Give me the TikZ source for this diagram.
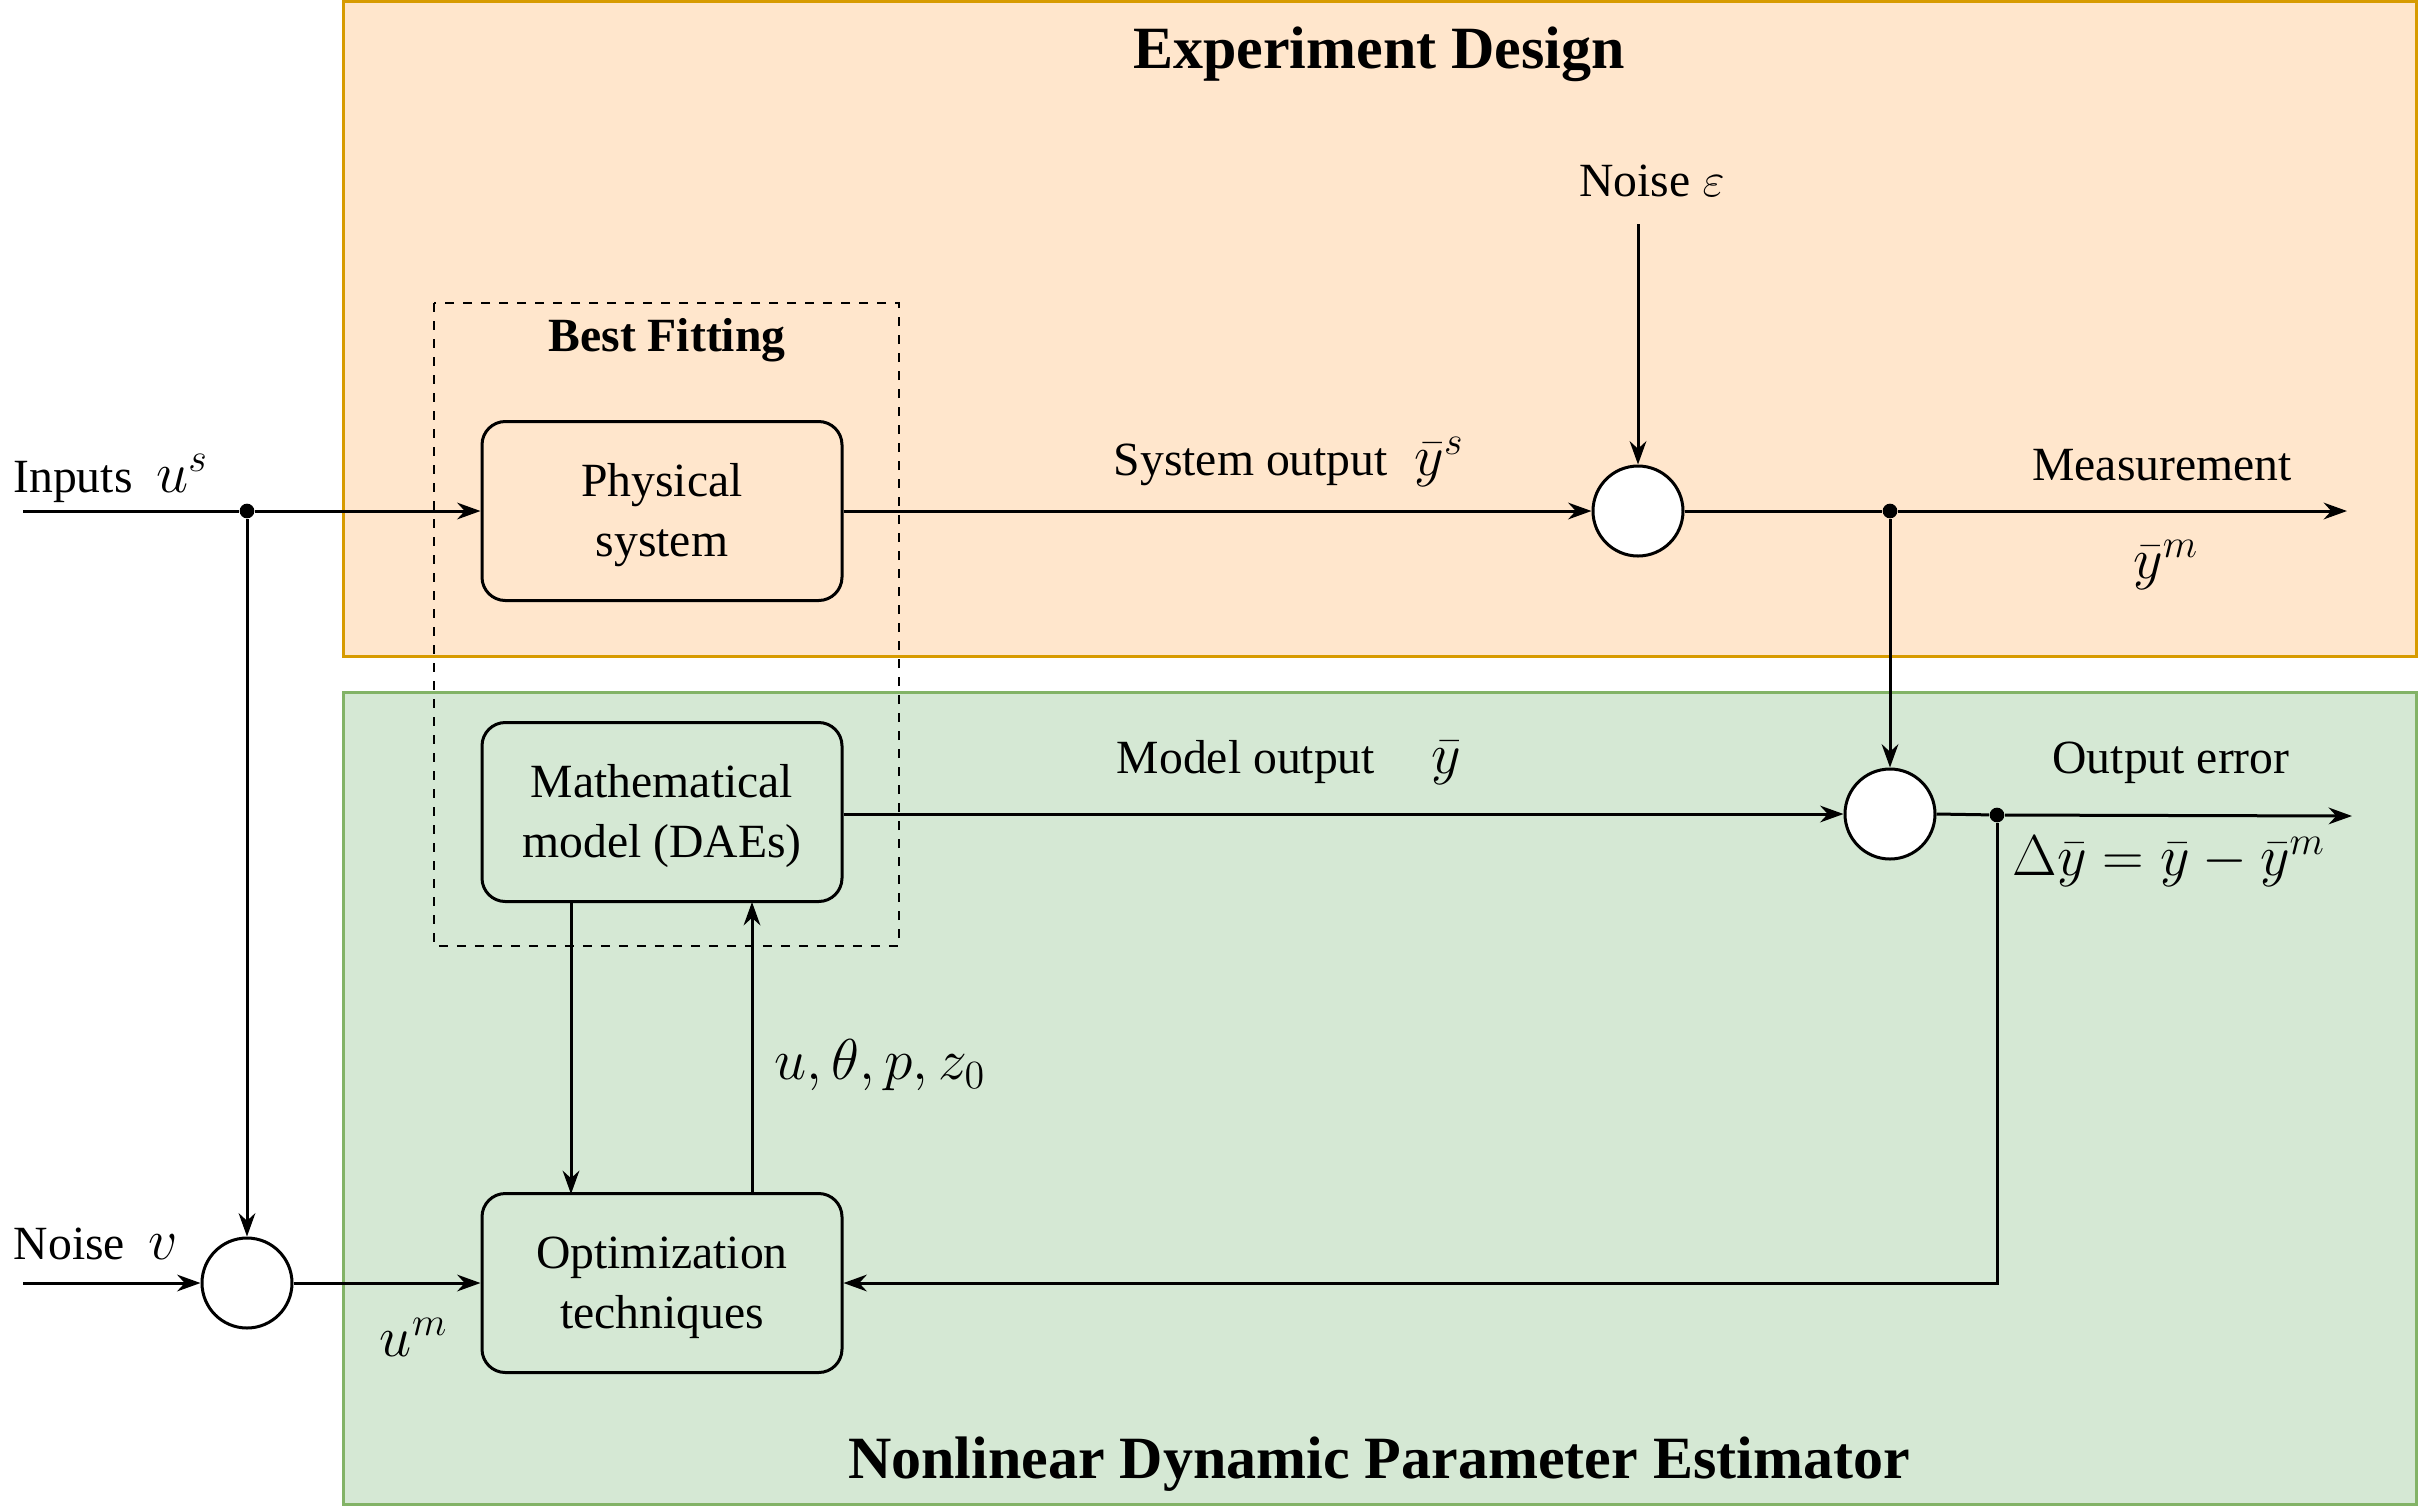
\documentclass[tikz,border=0pt]{standalone}
\usepackage{fontspec}
\setmainfont{Liberation Serif}
\usetikzlibrary{arrows.meta,shapes.geometric}
\definecolor{orfill}{HTML}{FFE6CC}
\definecolor{ordraw}{HTML}{D79B00}
\definecolor{grfill}{HTML}{D5E8D4}
\definecolor{grdraw}{HTML}{82B366}
\newcommand{\mth}[1]{{\fontsize{18}{20}\selectfont$#1$}}
\begin{document}
\begin{tikzpicture}[x=0.3pt,y=-0.3pt,
  every node/.style={font=\fontsize{14.3}{18}\selectfont},
  blk/.style={draw,line width=0.9pt,rounded corners=7pt,minimum width=108pt,minimum height=53.7pt,inner sep=0pt},
  blktxt/.style={align=center,inner sep=0pt,yshift=-1.3pt},
  sumc/.style={draw,circle,fill=white,line width=0.9pt,minimum size=27pt,inner sep=0pt},
  dotc/.style={circle,fill=black,inner sep=0pt,minimum size=4.4pt},
  conn/.style={line width=0.9pt},
  arr/.style={conn,-{Stealth[length=7pt,width=5pt]}},
  lbl/.style={inner sep=0pt,align=center},
  mlbl/.style={inner sep=0pt,font=\fontsize{18}{20}\selectfont},
  title/.style={inner sep=0pt,font=\fontsize{18}{21}\selectfont\bfseries}]
\useasboundingbox (0,0) rectangle (2418,1506);
% regions
\draw[fill=orfill,draw=ordraw,line width=0.9pt] (343,1) rectangle (2416,656);
\draw[fill=grfill,draw=grdraw,line width=0.9pt] (343,692) rectangle (2416,1504);
\node[title] (t1) at (1379,54) {Experiment Design};
\node[title] (t2) at (1379,1464) {Nonlinear Dynamic Parameter Estimator};
% dashed best fitting box
\draw[dashed,dash pattern=on 2.7pt off 2.7pt,line width=0.7pt] (434,303) rectangle (899,946);
\node[lbl,font=\fontsize{14.3}{18}\selectfont\bfseries] (bf) at (667,340) {Best Fitting};
% blocks
\node[blk] (phys) at (662,511) {};
\node[blktxt] (physT) at (phys.center) {Physical\\system};
\node[blk] (math) at (662,812) {};
\node[blktxt] (mathT) at (math.center) {Mathematical\\model (DAEs)};
\node[blk] (opt) at (662,1283) {};
\node[blktxt] (optT) at (opt.center) {Optimization\\techniques};
\node[sumc] (s1) at (1638,511) {};
\node[sumc] (s2) at (1890,814) {};
\node[sumc] (s3) at (247,1283) {};
% coordinates
\coordinate (inL) at (23,511);
\node[dotc] (d1) at (247,511) {};
\coordinate (nvL) at (23,1283);
\coordinate (epsT) at (1638,224);
\node[dotc] (d2) at (1890,511) {};
\coordinate (measR) at (2347,511);
\node[dotc] (d3) at (1997,815) {};
\coordinate (errR) at (2352,816);
\coordinate (fbC) at (1997,1283);
% connectors
\draw[conn] (inL) -- (d1);
\draw[arr] (d1) -- (phys.west |- d1);
\draw[arr] (d1) -- (s3.north);
\draw[arr] (nvL) -- (s3.west);
\draw[arr] (s3.east) -- (opt.west |- s3);
\draw[arr] (phys.east |- s1) -- (s1.west);
\draw[arr] (epsT) -- (s1.north);
\draw[conn] (s1.east) -- (d2);
\draw[arr] (d2) -- (measR);
\draw[arr] (d2) -- (s2.north);
\draw[arr] (math.east |- s2) -- (s2.west);
\draw[conn] (s2.east) -- (d3);
\draw[arr] (d3) -- (errR);
\draw[arr] (d3) -- (fbC) -- (opt.east |- fbC);
\draw[arr] (571,902) -- (571,1194);
\draw[arr] (752,1194) -- (752,902);
% labels
\node[lbl] (lin) at (111,478) {Inputs \ \mth{u^s}};
\node[lbl] (lnv) at (96,1244) {Noise \ \mth{v}};
\node[mlbl] (lum) at (414,1337) {$u^m$};
\node[lbl] (lso) at (1289,462) {System output\hspace{8pt}\mth{\bar{y}^s}};
\node[lbl] (leps) at (1652,181) {Noise $\varepsilon$};
\node[lbl] (lmeas) at (2162,465) {Measurement};
\node[mlbl] (lym) at (2166,565) {$\bar{y}^m$};
\node[lbl] (lmo) at (1289,763) {Model output\hspace{17pt}\mth{\bar{y}}};
\node[lbl] (loe) at (2171,763) {Output error};
\node[mlbl] (ldy) at (2169,861) {$\Delta\bar{y}=\bar{y}-\bar{y}^m$};
\node[mlbl] (lpar) at (880,1065) {$u,\theta,p,z_0$};
\end{tikzpicture}
\end{document}
